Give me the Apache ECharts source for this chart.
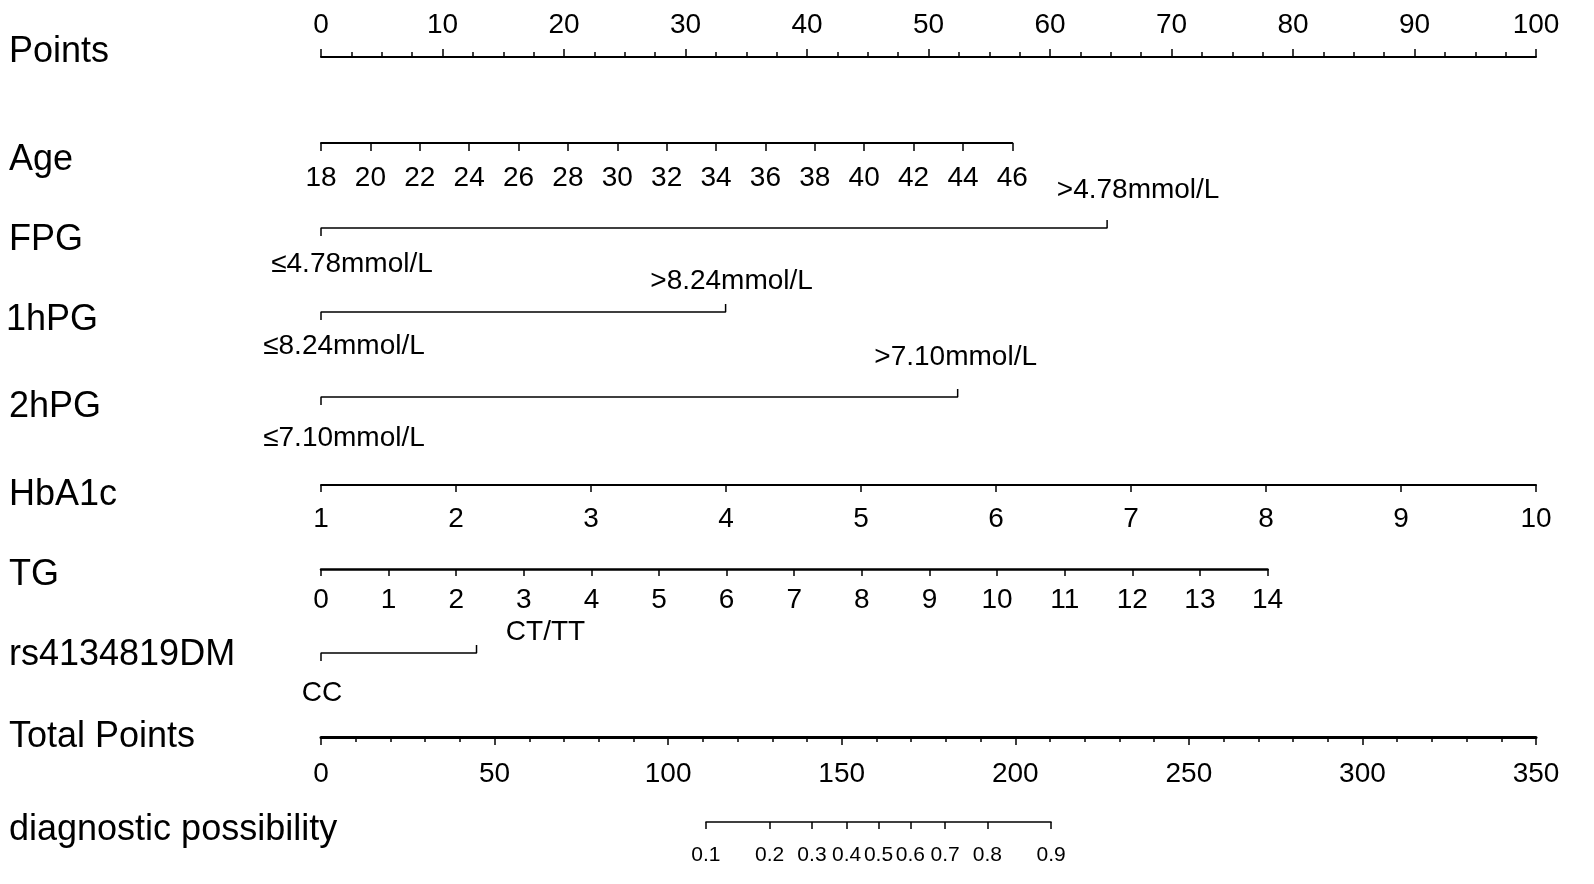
<!DOCTYPE html>
<html>
<head>
<meta charset="utf-8">
<script src="https://cdn.jsdelivr.net/npm/echarts@6/dist/echarts.min.js"></script>
<style>
html,body{margin:0;padding:0;background:#fff;}
#chart{width:1594px;height:884px;}
</style>
</head>
<body>
<div id="chart"></div>
<script>
// ---------------- data ----------------
const rowNames = ['Points','Age','FPG','1hPG','2hPG','HbA1c','TG','rs4134819DM','Total Points','diagnostic possibility'];
const pointsRange = [0, 100];
const pointsInterval = 10;
const ageRange = [18, 46];
const ageInterval = 2;
const ageMaxPoints = 56.9;
const fpgLevels = ['≤4.78mmol/L', '>4.78mmol/L'];
const fpgPoints = [0, 64.7];
const hpg1Levels = ['≤8.24mmol/L', '>8.24mmol/L'];
const hpg1Points = [0, 33.3];
const hpg2Levels = ['≤7.10mmol/L', '>7.10mmol/L'];
const hpg2Points = [0, 52.4];
const hba1cRange = [1, 10];
const hba1cInterval = 1;
const hba1cMaxPoints = 100;
const tgRange = [0, 14];
const tgInterval = 1;
const tgMaxPoints = 77.9;
const rsLevels = ['CC', 'CT/TT'];
const rsPoints = [0, 12.8];
const totalRange = [0, 350];
const totalInterval = 50;
const diagProbs = [0.1, 0.2, 0.3, 0.4, 0.5, 0.6, 0.7, 0.8, 0.9];
const diagCenterTotal = 160.6;   // total points where probability = 0.5
const diagSlope = 0.0442;        // logit change per total point

// ---------------- layout ----------------
const W = 1594;
const PL = 321, PR = 1536;       // points 0 .. 100
const FONT = '"Liberation Sans", Arial, sans-serif';
const rowLabelY = [50, 158, 238, 318, 405, 493, 573, 653, 735, 828];
const rowLabelX = [9, 9, 9, 6, 9, 9, 9, 9, 9, 9];
const axisY = {points:57, age:143, fpg:228, hpg1:312, hpg2:397, hba1c:485, tg:569, rs:653, total:737, diag:822};

const xAtPts = p => PL + p / pointsRange[1] * (PR - PL);
const xAtTotal = t => PL + t / totalRange[1] * (PR - PL);
const totalAtProb = p => diagCenterTotal + Math.log(p / (1 - p)) / diagSlope;
const probAtTotal = t => 1 / (1 + Math.exp(-diagSlope * (t - diagCenterTotal)));

const grids = [], xAxes = [], yAxes = [], series = [];

function addGrid(left, right, top, height, yMin, yMax) {
  grids.push({left: left, right: right, top: top, height: height, containLabel: false});
  yAxes.push({gridIndex: grids.length - 1, type: 'value', show: false, min: yMin, max: yMax});
  return grids.length - 1;
}

function contAxis(gi, min, max, interval, o) {
  return {
    gridIndex: gi, type: 'value', min: min, max: max, interval: interval,
    position: o.position || 'bottom',
    axisLine: {show: true, onZero: false, lineStyle: {color: '#000', width: o.lineWidth || 2}},
    axisTick: {show: true, length: o.tickLen || 8, lineStyle: {color: '#000', width: 1.5}},
    minorTick: o.minor ? {show: true, splitNumber: o.minor, length: o.minorLen || 5, lineStyle: {color: '#000', width: 1.5}} : {show: false},
    splitLine: {show: false}, minorSplitLine: {show: false},
    axisLabel: {show: true, color: '#000', fontSize: o.fontSize || 28, fontFamily: FONT, margin: o.margin,
      showMinLabel: true, showMaxLabel: true, hideOverlap: false},
    axisPointer: {show: false}
  };
}

// Points axis (top labels, ticks up)
let gi = addGrid(PL, W - xAtPts(pointsRange[1]), axisY.points, 10, 0, 1);
xAxes.push(contAxis(gi, pointsRange[0], pointsRange[1], pointsInterval, {position: 'top', minor: 4, margin: 18, tickLen: 8}));

// Age
gi = addGrid(PL, W - xAtPts(ageMaxPoints), axisY.age - 10, 10, 0, 1);
xAxes.push(contAxis(gi, ageRange[0], ageRange[1], ageInterval, {margin: 21, tickLen: 8}));

// categorical rows
function catRow(y, levels, pts, offs) {
  const g = addGrid(PL, W - xAtPts(pointsRange[1]), y - 10, 20, -1, 1);
  xAxes.push({gridIndex: g, type: 'value', show: false, min: pointsRange[0], max: pointsRange[1]});
  series.push({
    type: 'line', xAxisIndex: g, yAxisIndex: g, showSymbol: false, silent: true, animation: false,
    lineStyle: {color: '#000', width: 1.5},
    data: [[pts[0], -0.8], [pts[0], 0], [pts[1], 0], [pts[1], 0.8]]
  });
  series.push({
    type: 'scatter', xAxisIndex: g, yAxisIndex: g, symbolSize: 0, silent: true, animation: false,
    data: levels.map((name, i) => ({
      value: [pts[i], 0], name: name,
      label: {show: true, position: 'inside', offset: offs[i], formatter: name,
        color: '#000', textBorderWidth: 0, textBorderColor: 'transparent', opacity: 1,
        fontSize: 28, fontFamily: FONT}
    }))
  });
}
catRow(axisY.fpg, fpgLevels, fpgPoints, [[31, 36], [31, -38]]);
catRow(axisY.hpg1, hpg1Levels, hpg1Points, [[23, 34], [6, -31]]);
catRow(axisY.hpg2, hpg2Levels, hpg2Points, [[23, 41], [-2, -40]]);

// HbA1c
gi = addGrid(PL, W - xAtPts(hba1cMaxPoints), axisY.hba1c - 10, 10, 0, 1);
xAxes.push(contAxis(gi, hba1cRange[0], hba1cRange[1], hba1cInterval, {margin: 20, tickLen: 7}));

// TG
gi = addGrid(PL, W - xAtPts(tgMaxPoints), axisY.tg - 10, 10, 0, 1);
xAxes.push(contAxis(gi, tgRange[0], tgRange[1], tgInterval, {margin: 17, tickLen: 7, lineWidth: 2.5}));

// rs4134819DM
catRow(axisY.rs, rsLevels, rsPoints, [[1, 40], [69, -21]]);

// Total points
gi = addGrid(PL, W - xAtTotal(totalRange[1]), axisY.total - 10, 10, 0, 1);
xAxes.push(contAxis(gi, totalRange[0], totalRange[1], totalInterval, {margin: 23, tickLen: 8, minor: 5, minorLen: 5, lineWidth: 3}));

// diagnostic possibility
const dMin = totalAtProb(diagProbs[0]);
const dMax = totalAtProb(diagProbs[diagProbs.length - 1]);
const diagTicks = diagProbs.map(totalAtProb);
gi = addGrid(xAtTotal(dMin), W - xAtTotal(dMax), axisY.diag - 10, 10, 0, 1);
const dAxis = contAxis(gi, dMin, dMax, null, {margin: 23, tickLen: 7, fontSize: 21, lineWidth: 1.5});
delete dAxis.interval;
dAxis.axisTick.customValues = diagTicks;
dAxis.axisLabel.customValues = diagTicks;
dAxis.axisLabel.formatter = v => probAtTotal(v).toFixed(1);
xAxes.push(dAxis);

// row labels
const graphic = rowNames.map((t, i) => ({
  type: 'text', left: rowLabelX[i], top: rowLabelY[i] - 16, silent: true,
  style: {text: t, fill: '#000', font: '36px ' + FONT}
}));

const chart = echarts.init(document.getElementById('chart'), null, {renderer: 'canvas'});
chart.setOption({
  backgroundColor: '#fff',
  animation: false,
  grid: grids,
  xAxis: xAxes,
  yAxis: yAxes,
  series: series,
  graphic: graphic
});
</script>
</body>
</html>
